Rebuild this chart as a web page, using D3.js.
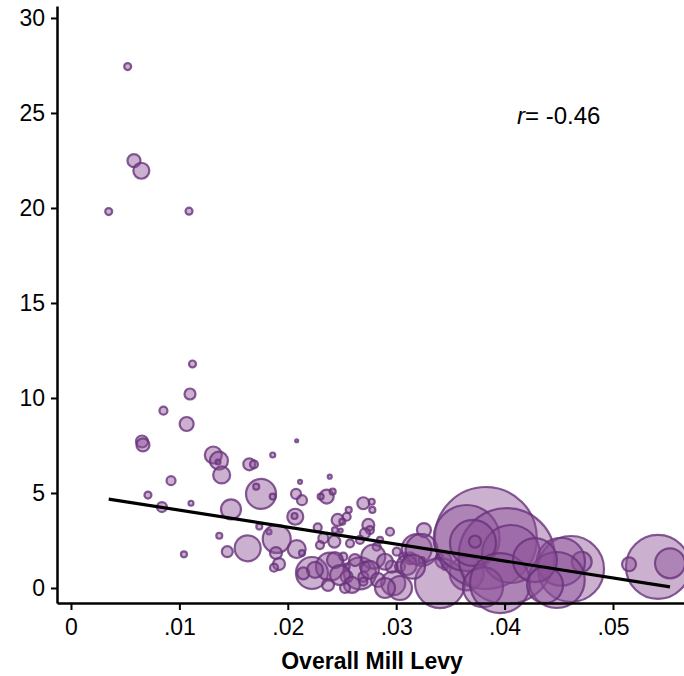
<!DOCTYPE html>
<html>
<head>
<meta charset="utf-8">
<script src="https://cdn.jsdelivr.net/npm/d3@7"></script>
<style>
  body { margin: 0; background: #fff; }
  .chart text { font-family: "Liberation Sans", Arial, sans-serif; fill: #000; }
</style>
</head>
<body>
<div class="chart"></div>
<script>
var svgWidth = 684;
var svgHeight = 676;

// x: overall mill levy, y: outcome, w: enrollment (bubble weight)
var millLevy = [
  .00523, .00581, .00649, .00348, .01089, .01121, .01098, .00853, .01067, .00655,
  .00664, .00923, .0071, .00839, .01107, .01313, .01365, .0139, .01356, .01645,
  .01688, .01861, .02082, .01753, .01709, .01861, .01476, .01368, .01042, .01442,
  .0163, .01737, .01827, .01898, .01891, .01919, .01873, .02076, .02131, .02113,
  .02387, .02359, .02414, .02303, .02069, .02062, .02082, .02131, .02276, .02328,
  .02429, .0246, .02543, .02223, .02389, .02143, .02562, .02697, .02774, .0278,
  .02503, .02435, .02488, .02297, .02743, .02758, .02712, .02666, .02943, .02574,
  .0282, .02851, .03005, .03066, .03127, .03189, .02666, .02789, .02712, .02697,
  .02697, .02973, .02958, .02897, .03035, .02512, .02543, .02543, .02251, .03256,
  .03235, .03097, .03435, .03404, .0345, .03235, .0365, .03404, .03827, .0365,
  .04019, .04059, .03708, .03727, .03801, .03958, .04613, .04711, .0452, .04481,
  .05415, .05526, .05148, .03155, .03035, .02435, .02482, .0262, .02758, .02592,
  .02832, .02897, .02371, .02528, .0428, .04373
];
var outcomeVals = [
  27.44, 22.49, 21.96, 19.81, 19.83, 11.79, 10.21, 9.33, 8.63, 7.71,
  7.53, 5.65, 4.89, 4.26, 4.46, 7.0, 6.7, 5.95, 6.63, 6.51,
  6.51, 7.0, 7.75, 4.95, 5.33, 4.81, 4.14, 2.75, 1.77, 1.91,
  2.09, 3.23, 2.95, 2.58, 1.84, 1.26, 1.07, 4.95, 4.62, 5.59,
  5.86, 4.81, 5.07, 4.81, 3.75, 3.79, 2.05, 1.84, 3.19, 2.62,
  2.44, 3.58, 3.75, 0.79, 1.12, 0.77, 4.11, 4.46, 4.54, 4.11,
  3.49, 3.05, 3.02, 2.26, 3.32, 3.05, 2.88, 2.53, 2.96, 2.35,
  2.17, 2.53, 1.91, 1.65, 1.56, 2.05, 0.77, 1.65, 1.12, 0.59,
  0.33, 0.25, 1.12, 1.38, 1.12, 1.65, 1.12, 0.59, 0.95, 3.05,
  2.0, 1.21, 1.47, 1.63, 1.11, 1.47, 0.77, 0.26, 2.63, 2.63,
  1.68, 1.79, 2.37, 2.44, 0.05, 0.26, 1.0, 1.38, 1.38, 0.42,
  1.11, 1.3, 1.25, 1.12, 0.0, 1.47, 0.68, 1.47, 0.95, 0.16,
  0.42, 0.0, 0.16, 0.0, 1.47, 0.16
];
var enrollment = [
  122, 423, 640, 122, 122, 122, 302, 160, 490, 360,
  423, 203, 122, 250, 62, 722, 810, 722, 62, 360,
  160, 62, 22, 2250, 90, 90, 1000, 90, 90, 302,
  1690, 90, 62, 1960, 360, 360, 160, 250, 250, 40,
  40, 490, 90, 90, 640, 90, 810, 90, 160, 250,
  360, 360, 160, 2560, 1960, 360, 90, 360, 90, 90,
  90, 90, 40, 160, 360, 160, 250, 160, 160, 160,
  160, 90, 160, 160, 360, 2250, 2560, 1440, 250, 250,
  160, 1440, 360, 640, 250, 160, 90, 360, 640, 490,
  2560, 1000, 640, 90, 90, 90, 2890, 6250, 26010, 10890,
  23040, 8410, 5290, 360, 4000, 9000, 10890, 1000, 5760, 7840,
  10240, 2250, 490, 1440, 1440, 640, 1000, 360, 810, 640,
  490, 1000, 360, 250, 4840, 3240
];

var xTicks = [0, .01, .02, .03, .04, .05];
var yTicks = [0, 5, 10, 15, 20, 25, 30];

// fitted line and correlation
var fitIntercept = 4.99;
var fitSlope = -89.2;
var corrR = "-0.46";

var data = millLevy.map(function(d, i) {
    return { levy: d, val: outcomeVals[i], enr: enrollment[i] };
});

var svg = d3.select(".chart")
    .append("svg")
    .attr("width", svgWidth)
    .attr("height", svgHeight);

svg.append("rect")
    .attr("width", svgWidth)
    .attr("height", svgHeight)
    .attr("fill", "#fff");

var xScale = d3.scaleLinear()
    .domain([-0.00129, 0.05655])
    .range([57, 684]);

var yScale = d3.scaleLinear()
    .domain([-0.79, 30.63])
    .range([603, 6]);

var rScale = d3.scaleSqrt()
    .domain([0, d3.max(enrollment)])
    .range([0, 51]);

// bubbles
svg.append("g").selectAll("circle")
    .data(data)
    .enter()
    .append("circle")
    .attr("cx", d => xScale(d.levy))
    .attr("cy", d => yScale(d.val))
    .attr("r", d => rScale(d.enr))
    .attr("fill", "#8b4f96")
    .attr("fill-opacity", 0.45)
    .attr("stroke", "#68327a")
    .attr("stroke-opacity", 0.8)
    .attr("stroke-width", 2.2);

// fit line
var xExt = d3.extent(millLevy);
svg.append("line")
    .attr("x1", xScale(xExt[0]))
    .attr("y1", yScale(fitIntercept + fitSlope * xExt[0]))
    .attr("x2", xScale(xExt[1]))
    .attr("y2", yScale(fitIntercept + fitSlope * xExt[1]))
    .attr("stroke", "#000")
    .attr("stroke-width", 3.2);

// axes
var bottomAxis = d3.axisBottom(xScale)
    .tickValues(xTicks)
    .tickSize(7)
    .tickSizeOuter(0)
    .tickPadding(9)
    .tickFormat(d => d === 0 ? "0" : d3.format(".2f")(d).replace(/^0/, ""));

var leftAxis = d3.axisLeft(yScale)
    .tickValues(yTicks)
    .tickSize(6)
    .tickSizeOuter(0)
    .tickPadding(6);

var xg = svg.append("g")
    .attr("transform", "translate(0, 603)")
    .call(bottomAxis);

var yg = svg.append("g")
    .attr("transform", "translate(57, 0)")
    .call(leftAxis);

[xg, yg].forEach(function(g) {
    g.select(".domain").attr("stroke-width", 2.5).attr("stroke", "#000");
    g.selectAll(".tick line").attr("stroke-width", 2).attr("stroke", "#000");
    g.selectAll(".tick text")
        .attr("font-size", 23)
        .attr("font-family", "'Liberation Sans', Arial, sans-serif")
        .attr("fill", "#000");
});

svg.append("text")
    .attr("x", 372)
    .attr("y", 669)
    .attr("text-anchor", "middle")
    .attr("font-size", 23)
    .attr("font-weight", "bold")
    .text("Overall Mill Levy");

var rText = svg.append("text")
    .attr("x", 517)
    .attr("y", 124)
    .attr("font-size", 24);
rText.append("tspan").attr("font-style", "italic").text("r");
rText.append("tspan").text("= " + corrR);
</script>
</body>
</html>
